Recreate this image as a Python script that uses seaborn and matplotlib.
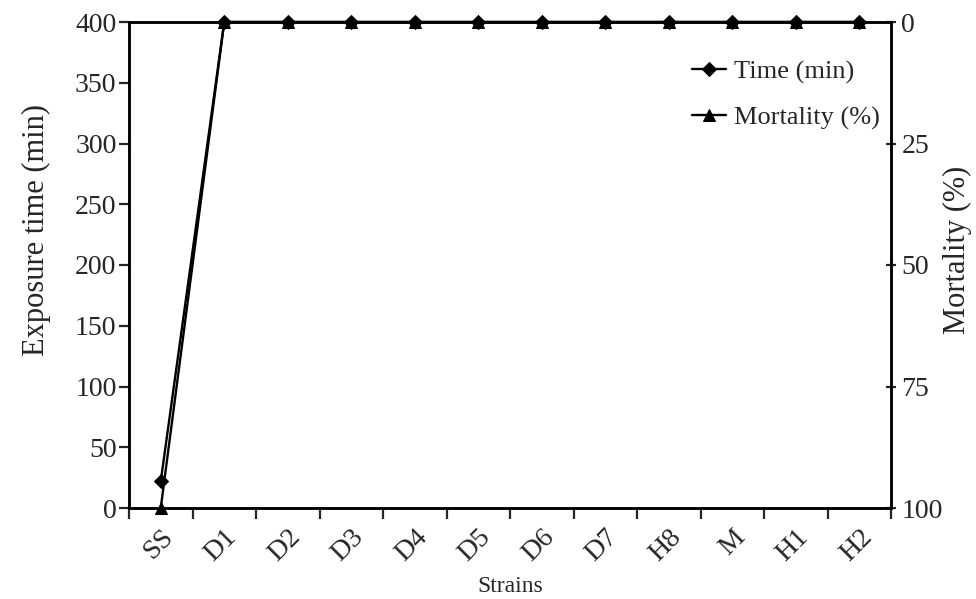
import matplotlib
matplotlib.use("Agg")
import matplotlib.pyplot as plt
import seaborn as sns
import pandas as pd
import numpy as np
from matplotlib.ticker import FixedLocator

sns.set_theme(style="ticks")
plt.rcParams['font.family'] = ['Liberation Serif', 'DejaVu Serif']

strains = ["SS", "D1", "D2", "D3", "D4", "D5", "D6", "D7", "H8", "M", "H1", "H2"]
time_min = [22, 400, 400, 400, 400, 400, 400, 400, 400, 400, 400, 400]
mortality = [100, 0, 0, 0, 0, 0, 0, 0, 0, 0, 0, 0]

df = pd.DataFrame({"Strain": strains, "Time": time_min, "Mortality": mortality})

fig = plt.figure(figsize=(9.76, 5.99), dpi=100)
ax = fig.add_axes([129/976, 1-508/599, (891-129)/976, (508-22)/599])
ax2 = ax.twinx()

sns.lineplot(data=df, x="Strain", y="Time", ax=ax, color="black", marker="D",
             markersize=7, linewidth=1.7, label="Time (min)", clip_on=False,
             markeredgecolor="black", sort=False, legend=False)
sns.lineplot(data=df, x="Strain", y="Mortality", ax=ax2, color="black", marker="^",
             markersize=8, linewidth=1.7, label="Mortality (%)", clip_on=False,
             markeredgecolor="black", sort=False, legend=False)

n = len(strains)
ax.set_xlim(-0.5, n - 0.5)
ax.set_ylim(0, 400)
ax2.set_ylim(100, 0)

ax.set_yticks(np.arange(0, 401, 50))
ax2.set_yticks([0, 25, 50, 75, 100])

ax.set_xticks(range(n))
ax.set_xticklabels(strains, rotation=45, ha="right", rotation_mode="anchor", fontsize=20)
ax.tick_params(axis="x", which="major", length=0, pad=12)
ax.xaxis.set_minor_locator(FixedLocator(np.arange(-0.5, n, 1.0)))
ax.tick_params(axis="x", which="minor", length=8, width=1.6, direction="out")

ax.tick_params(axis="y", labelsize=20, length=7, width=1.6, direction="out", pad=2)
ax2.tick_params(axis="y", labelsize=20, length=7, width=1.6, direction="inout", pad=4)

ax.set_xlabel("Strains", fontsize=17, labelpad=7)
ax.set_ylabel("Exposure time (min)", fontsize=22)
ax2.set_ylabel("Mortality (%)", fontsize=22)
ax.yaxis.set_label_coords((51 - 129) / 762, (508 - 230) / 486)
ax2.yaxis.set_label_coords((943 - 129) / 762, (508 - 250) / 486)

for a in (ax, ax2):
    for s in a.spines.values():
        s.set_linewidth(1.8)
        s.set_color("black")
    a.grid(False)

h1, l1 = ax.get_legend_handles_labels()
h2, l2 = ax2.get_legend_handles_labels()
leg = ax2.legend(h1 + h2, l1 + l2, loc="upper left", bbox_to_anchor=(668/976, 1-36/599),
                 bbox_transform=fig.transFigure, frameon=False, fontsize=19,
                 handlelength=1.3, handletextpad=0.3, labelspacing=0.85)

fig.savefig("out.png", dpi=100)
